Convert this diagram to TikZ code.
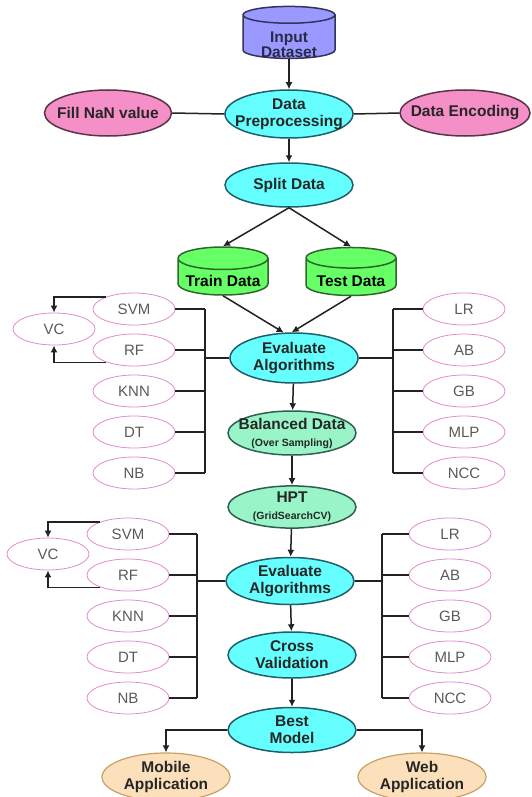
\documentclass[tikz,border=0pt]{standalone}
\usepackage{fontspec}
\setmainfont{Liberation Sans}
\usepackage{tikz}
\usetikzlibrary{arrows,arrows.meta,shapes,positioning,calc}
\usepackage{xcolor}

\definecolor{inblue}{HTML}{9999FF}
\definecolor{inline}{HTML}{33335C}
\definecolor{cyanfill}{HTML}{66FFFF}
\definecolor{cyanline}{HTML}{1F5F6B}
\definecolor{pinkfill}{HTML}{F48FC8}
\definecolor{pinkline}{HTML}{5A3346}
\definecolor{greenfill}{HTML}{66FF66}
\definecolor{greenline}{HTML}{2E662E}
\definecolor{mintfill}{HTML}{99F5C8}
\definecolor{mintline}{HTML}{2F5F4F}
\definecolor{peachfill}{HTML}{FCE0BC}
\definecolor{peachline}{HTML}{C9A063}
\definecolor{algoline}{HTML}{E08CC8}
\definecolor{algotext}{HTML}{5A5A5A}
\definecolor{wire}{HTML}{222222}

\tikzset{
  blob/.style={ellipse, draw, line width=1.5pt, inner xsep=-10pt, inner ysep=0pt,
    align=center, text=black!85, minimum width=128pt, minimum height=46pt,
    font=\bfseries\fontsize{15.5}{17}\selectfont},
  cyanbox/.style={blob, fill=cyanfill, draw=cyanline},
  pinkbox/.style={blob, fill=pinkfill, draw=pinkline},
  mintbox/.style={blob, fill=mintfill, draw=mintline},
  peachbox/.style={blob, fill=peachfill, draw=peachline, line width=1.2pt},
  dbase/.style={cylinder, shape border rotate=90, aspect=0.3, draw, line width=1.5pt,
    inner sep=0pt, font=\bfseries\fontsize{15.5}{17}\selectfont},
  algo/.style={ellipse, draw=algoline, line width=0.8pt, inner sep=0pt,
    minimum width=82pt, minimum height=32pt, text=algotext,
    font=\fontsize{15}{16}\selectfont},
  link/.style={draw=wire, line width=1.5pt},
  flow/.style={link, -{Latex[length=7pt,width=7pt]}}
}

\newcommand{\smalltxt}[1]{{\fontsize{10.5}{11}\selectfont #1}}
\newcommand{\dbtext}[2]{\raisebox{#1}[0pt][0pt]{\begin{tabular}{@{}c@{}}#2\end{tabular}}}

\begin{document}
\begin{tikzpicture}[x=1pt, y=-1pt]
    \useasboundingbox (0,0) rectangle (532,797);

    % Preprocessing
    \node[dbase, fill=inblue, draw=inline, text=inline!80!black,
      minimum width=92pt, minimum height=52pt] (input) at (289,37) {\dbtext{-13pt}{Input\\[-2pt]Dataset}};
    \node[cyanbox, minimum height=48pt] (prep) at (289,114) {Data\\Preprocessing};
    \node[pinkbox, minimum width=127pt] (fill) at (108,113) {Fill NaN value};
    \node[pinkbox, minimum width=130pt] (enc) at (465,113) {Data Encoding};
    \node[cyanbox, minimum height=44pt] (split) at (289,185) {Split Data};
    \node[dbase, fill=greenfill, draw=greenline,
      minimum width=90pt, minimum height=48pt] (train) at (223,277) {\dbtext{-10pt}{Train Data}};
    \node[dbase, fill=greenfill, draw=greenline,
      minimum width=90pt, minimum height=48pt] (test) at (351,277) {\dbtext{-10pt}{Test Data}};

    \draw[flow] (input) -- (prep);
    \draw[link] (fill.east) -- (prep.west);
    \draw[link] (prep.east) -- (enc.west);
    \draw[flow] (prep) -- (split);
    \draw[flow] (split.south) -- (train.north);
    \draw[flow] (split.south) -- (test.north);

    % Main column
    \node[cyanbox, minimum height=50pt] (evala) at (294,358) {Evaluate\\Algorithms};
    \node[mintbox, minimum height=44pt] (bal) at (292,433) {Balanced Data\\\smalltxt{(Over Sampling)}};
    \node[mintbox, minimum height=40pt] (hpt) at (292,507) {HPT\\\smalltxt{(GridSearchCV)}};
    \node[cyanbox, minimum height=47pt] (evalb) at (290,581) {Evaluate\\Algorithms};
    \node[cyanbox] (cross) at (292,655) {Cross\\Validation};
    \node[cyanbox, minimum height=45pt] (best) at (292,730) {Best\\Model};
    \node[peachbox, minimum height=48pt] (mobile) at (166,777) {Mobile\\Application};
    \node[peachbox, minimum height=48pt] (web) at (422,777) {Web\\Application};

    \draw[flow] (train.south) -- (evala.112);
    \draw[flow] (test.south) -- (evala.95);
    \draw[flow] (evala) -- (bal);
    \draw[flow] (bal) -- (hpt);
    \draw[flow] (hpt) -- (evalb);
    \draw[flow] (evalb) -- (cross);
    \draw[flow] (cross) -- (best);
    \draw[flow] (best.west) -| (mobile.north);
    \draw[flow] (best.east) -| (web.north);

    % First round of classifiers
    \foreach \t [count=\i] in {SVM,RF,KNN,DT,NB}
      \node[algo] (la\i) at (134,268+41*\i) {\t};
    \foreach \t [count=\i] in {LR,AB,GB,MLP,NCC}
      \node[algo] (ra\i) at (464,268+41*\i) {\t};
    \node[algo] (vca) at (54,329) {VC};
    \coordinate (lbusa) at (205,358);
    \coordinate (rbusa) at (393,358);

    \draw[link] (evala.west) -- (lbusa);
    \draw[link] (evala.east) -- (rbusa);
    \draw[link] (la1.east -| lbusa) -- (la5.east -| lbusa);
    \draw[link] (ra1.west -| rbusa) -- (ra5.west -| rbusa);
    \foreach \i in {1,...,5} {
      \draw[link] (la\i.east) -- (la\i.east -| lbusa);
      \draw[link] (ra\i.west) -- (ra\i.west -| rbusa);
    }
    \draw[flow] (la1.156) -| (vca.north);
    \draw[flow] (la2.204) -| (vca.south);

    % Second round after tuning
    \foreach \t [count=\i] in {SVM,RF,KNN,DT,NB}
      \node[algo] (lb\i) at (128,493+41*\i) {\t};
    \foreach \t [count=\i] in {LR,AB,GB,MLP,NCC}
      \node[algo] (rb\i) at (450,493+41*\i) {\t};
    \node[algo] (vcb) at (48,554) {VC};
    \coordinate (lbusb) at (197,581);
    \coordinate (rbusb) at (382,581);

    \draw[link] (evalb.west) -- (lbusb);
    \draw[link] (evalb.east) -- (rbusb);
    \draw[link] (lb1.east -| lbusb) -- (lb5.east -| lbusb);
    \draw[link] (rb1.west -| rbusb) -- (rb5.west -| rbusb);
    \foreach \i in {1,...,5} {
      \draw[link] (lb\i.east) -- (lb\i.east -| lbusb);
      \draw[link] (rb\i.west) -- (rb\i.west -| rbusb);
    }
    \draw[flow] (lb1.156) -| (vcb.north);
    \draw[flow] (lb2.204) -| (vcb.south);
\end{tikzpicture}
\end{document}
